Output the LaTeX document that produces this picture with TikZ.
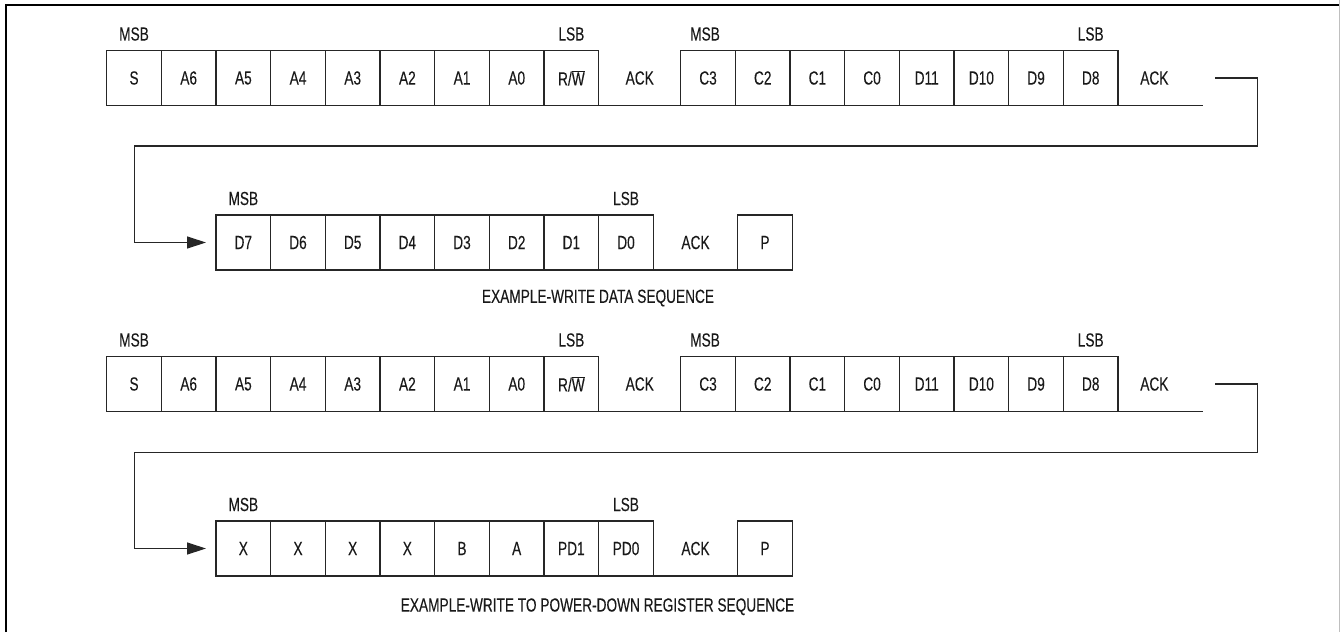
\documentclass[tikz,border=0pt]{standalone}
\usepackage{fontspec}
\setmainfont{Liberation Sans}[FakeStretch=0.72,FakeBold=0.15]
\usetikzlibrary{arrows.meta}
\begin{document}
\begin{tikzpicture}[x=1pt,y=-1pt,
  txt/.style={font=\fontsize{19}{22}\selectfont, text=black!90},
  cell/.style={txt, draw=black!85, line width=1.3pt, minimum width=54.67pt, minimum height=55pt, inner sep=0pt, outer sep=0pt, anchor=north west},
  gap/.style={txt, minimum height=55pt, inner sep=0pt, outer sep=0pt, anchor=north west},
  lbl/.style={txt, inner sep=0pt},
  base/.style={draw=black!85, line width=1.3pt},
  flow/.style={draw=black!85, line width=1.3pt, line join=miter, -{Triangle[length=19pt,width=12pt]}, shorten >=10pt}]
\useasboundingbox (0,0) rectangle (1340,632);
% frame
\draw[line width=2.2pt] (6,632) -- (6,5) -- (1340,5);
\draw[black!25, line width=0.8pt] (1339,0) -- (1339,632);

% ---------- row 1 ----------
\foreach \t [count=\i] in {S,A6,A5,A4,A3,A2,A1,A0,{R/$\overline{\mbox{W}}$}}
  \node[cell] (r1c\i) at ({106.7+(\i-1)*54.67},50.5) {\t};
\node[gap, minimum width=82pt] (r1k1) at (r1c9.north east) {ACK};
\draw[base] (r1k1.south west) -- (r1k1.south east);
\foreach \t [count=\i] in {C3,C2,C1,C0,D11,D10,D9,D8}
  \node[cell] (r1d\i) at ({680.7+(\i-1)*54.67},50.5) {};
\foreach \t [count=\i] in {C3,C2,C1,C0,D11,D10,D9,D8}
  \node[lbl] at (r1d\i.center) {\t};
\node[gap, minimum width=84.6pt] (r1k2) at (r1d8.north east) {};
\node[lbl] (r1a2) at ([xshift=-6pt]r1k2.center) {ACK};
\draw[base] (r1k2.south west) -- (r1k2.south east);
\node[lbl] (m11) at ([yshift=16.5pt]r1c1.north) {MSB};
\node[lbl] (l11) at ([yshift=16.5pt]r1c9.north) {LSB};
\node[lbl] (m12) at ([yshift=16.5pt,xshift=-3pt]r1d1.north) {MSB};
\node[lbl] (l12) at ([yshift=16.5pt]r1d8.north) {LSB};

\coordinate (t1) at (1215,78);
\coordinate (b1) at (1257.3,146);
\coordinate (e1) at (134.7,146);

% ---------- row 2 ----------
\foreach \t [count=\i] in {D7,D6,D5,D4,D3,D2,D1,D0}
  \node[cell] (r2c\i) at ({216+(\i-1)*54.67},215) {\t};
\node[gap, minimum width=84.3pt] (r2k) at (r2c8.north east) {ACK};
\draw[base] (r2k.south west) -- (r2k.south east);
\node[cell] (r2p) at (r2k.north east) {P};
\node[lbl] (m2) at ([yshift=16.5pt]r2c1.north) {MSB};
\node[lbl] (l2) at ([yshift=16.5pt]r2c8.north) {LSB};
\node[lbl] (cap1) at (598,298) {EXAMPLE-WRITE DATA SEQUENCE};

\draw[flow] (t1) -| (b1) -- (e1) |- (r2c1.west);

% ---------- row 3 ----------
\foreach \t [count=\i] in {S,A6,A5,A4,A3,A2,A1,A0,{R/$\overline{\mbox{W}}$}}
  \node[cell] (r3c\i) at ({106.7+(\i-1)*54.67},356.5) {\t};
\node[gap, minimum width=82pt] (r3k1) at (r3c9.north east) {ACK};
\draw[base] (r3k1.south west) -- (r3k1.south east);
\foreach \t [count=\i] in {C3,C2,C1,C0,D11,D10,D9,D8}
  \node[cell] (r3d\i) at ({680.7+(\i-1)*54.67},356.5) {};
\foreach \t [count=\i] in {C3,C2,C1,C0,D11,D10,D9,D8}
  \node[lbl] at (r3d\i.center) {\t};
\node[gap, minimum width=84.6pt] (r3k2) at (r3d8.north east) {};
\node[lbl] (r3a2) at ([xshift=-6pt]r3k2.center) {ACK};
\draw[base] (r3k2.south west) -- (r3k2.south east);
\node[lbl] (m31) at ([yshift=16.5pt]r3c1.north) {MSB};
\node[lbl] (l31) at ([yshift=16.5pt]r3c9.north) {LSB};
\node[lbl] (m32) at ([yshift=16.5pt,xshift=-3pt]r3d1.north) {MSB};
\node[lbl] (l32) at ([yshift=16.5pt]r3d8.north) {LSB};

\coordinate (t2) at (1215,384);
\coordinate (b2) at (1257.3,452.3);
\coordinate (e2) at (134.7,452.3);

% ---------- row 4 ----------
\foreach \t [count=\i] in {X,X,X,X,B,A,PD1,PD0}
  \node[cell] (r4c\i) at ({216+(\i-1)*54.67},521) {\t};
\node[gap, minimum width=84.3pt] (r4k) at (r4c8.north east) {ACK};
\draw[base] (r4k.south west) -- (r4k.south east);
\node[cell] (r4p) at (r4k.north east) {P};
\node[lbl] (m4) at ([yshift=16.5pt]r4c1.north) {MSB};
\node[lbl] (l4) at ([yshift=16.5pt]r4c8.north) {LSB};
\node[lbl] (cap2) at (597.5,606.7) {EXAMPLE-WRITE TO POWER-DOWN REGISTER SEQUENCE};

\draw[flow] (t2) -| (b2) -- (e2) |- (r4c1.west);
\end{tikzpicture}
\end{document}
